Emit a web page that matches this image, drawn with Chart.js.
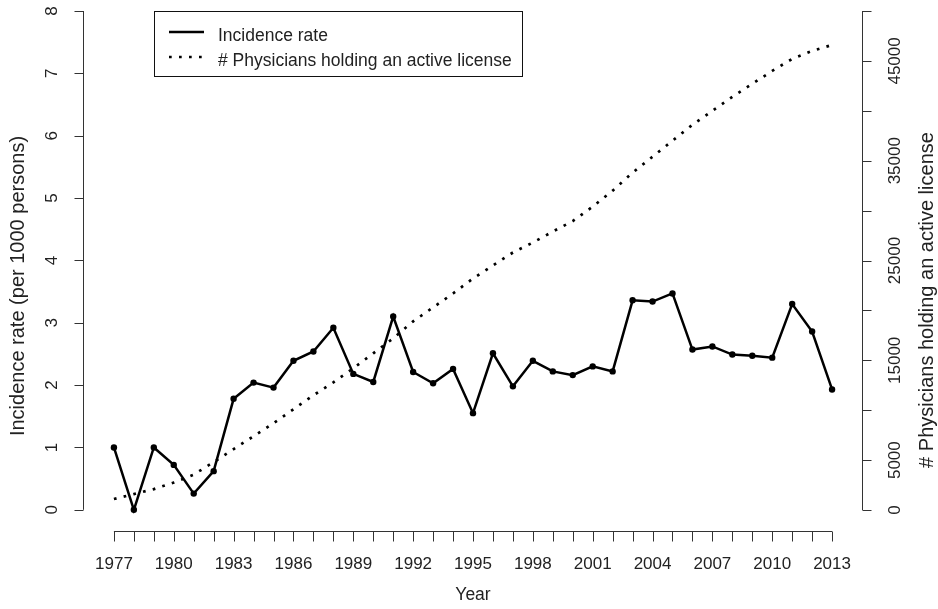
<!DOCTYPE html>
<html>
<head>
<meta charset="utf-8">
<script src="https://cdn.jsdelivr.net/npm/chart.js@4.4.1/dist/chart.umd.min.js"></script>
<style>
html, body { margin: 0; padding: 0; background: #fff; }
#wrap { width: 938px; height: 609px; position: relative; }
</style>
</head>
<body>
<div id="wrap"><canvas id="incidence-chart"></canvas></div>
<script>
const years = [1977, 1978, 1979, 1980, 1981, 1982, 1983, 1984, 1985, 1986, 1987, 1988, 1989,
    1990, 1991, 1992, 1993, 1994, 1995, 1996, 1997, 1998, 1999, 2000, 2001, 2002, 2003,
    2004, 2005, 2006, 2007, 2008, 2009, 2010, 2011, 2012, 2013];

const incidence_rate = [1.00, 0.00, 1.00, 0.72, 0.26, 0.62, 1.78, 2.04, 1.96, 2.39, 2.54, 2.92, 2.18,
    2.05, 3.10, 2.21, 2.03, 2.26, 1.55, 2.51, 1.98, 2.39, 2.22, 2.16, 2.30, 2.22, 3.36,
    3.34, 3.47, 2.57, 2.62, 2.49, 2.47, 2.44, 3.30, 2.86, 1.93];

const physicians = [1100, 1600, 2100, 2750, 3550, 4800, 6100, 7400, 8700, 10100, 11500, 12800, 14200,
    15700, 17200, 18900, 20300, 21700, 23200, 24500, 25800, 26800, 27900, 28950, 30400, 32000, 33800,
    35400, 37000, 38600, 40000, 41400, 42700, 44000, 45200, 46000, 46600];

const year_labels = [1977, 1980, 1983, 1986, 1989, 1992, 1995, 1998, 2001, 2004, 2007, 2010, 2013];
const rate_ticks = [0, 1, 2, 3, 4, 5, 6, 7, 8];
const phys_ticks = [0, 5000, 10000, 15000, 20000, 25000, 30000, 35000, 40000, 45000, 50000];
const phys_labels = [0, 5000, 15000, 25000, 35000, 45000];

const text_colour = "#222";
const axis_colour = "#333";
const font_family = "'Liberation Sans', Arial, sans-serif";

// R style axes: detached lines with outward tick marks, plus titles and a boxed legend
const rAxesPlugin = {
    id: "rAxes",
    afterDraw(chart) {
        const { ctx, chartArea, scales } = chart;
        const x = scales.x, yl = scales.y, yr = scales.y2;
        ctx.save();
        ctx.strokeStyle = axis_colour;
        ctx.lineWidth = 1;
        ctx.beginPath();

        const xb = Math.round(chartArea.bottom) + 0.5;
        ctx.moveTo(x.getPixelForValue(years[0]), xb);
        ctx.lineTo(x.getPixelForValue(years[years.length - 1]), xb);
        years.forEach(v => {
            const px = Math.round(x.getPixelForValue(v)) + 0.5;
            ctx.moveTo(px, xb);
            ctx.lineTo(px, xb + 10);
        });

        const xl = Math.round(chartArea.left) + 0.5;
        ctx.moveTo(xl, yl.getPixelForValue(rate_ticks[0]));
        ctx.lineTo(xl, yl.getPixelForValue(rate_ticks[rate_ticks.length - 1]));
        rate_ticks.forEach(v => {
            const py = Math.round(yl.getPixelForValue(v)) + 0.5;
            ctx.moveTo(xl, py);
            ctx.lineTo(xl - 9, py);
        });

        const xr = Math.round(chartArea.right) - 0.5;
        ctx.moveTo(xr, yr.getPixelForValue(phys_ticks[0]));
        ctx.lineTo(xr, yr.getPixelForValue(phys_ticks[phys_ticks.length - 1]));
        phys_ticks.forEach(v => {
            const py = Math.round(yr.getPixelForValue(v)) + 0.5;
            ctx.moveTo(xr, py);
            ctx.lineTo(xr + 9, py);
        });
        ctx.stroke();

        // axis titles, both reading bottom to top
        ctx.fillStyle = text_colour;
        ctx.font = "20px " + font_family;
        ctx.textAlign = "center";
        ctx.textBaseline = "middle";
        [[18, 286, "Incidence rate (per 1000 persons)"],
         [927, 300, "# Physicians holding an active license"]].forEach(([tx, ty, label]) => {
            ctx.save();
            ctx.translate(tx, ty);
            ctx.rotate(-Math.PI / 2);
            ctx.fillText(label, 0, 0);
            ctx.restore();
        });

        // legend
        ctx.font = "17.5px " + font_family;
        ctx.strokeStyle = "#111";
        ctx.lineWidth = 1;
        ctx.strokeRect(154.5, 11.5, 368, 65);
        ctx.textAlign = "left";
        ctx.textBaseline = "alphabetic";
        chart.data.datasets.forEach((ds, i) => {
            const ly = 32 + i * 25;
            ctx.save();
            ctx.strokeStyle = ds.borderColor;
            ctx.lineWidth = ds.borderWidth;
            ctx.setLineDash(ds.borderDash || []);
            ctx.beginPath();
            ctx.moveTo(169, ly);
            ctx.lineTo(204, ly);
            ctx.stroke();
            ctx.restore();
            ctx.fillText(ds.label, 218, 41 + i * 25);
        });
        ctx.restore();
    }
};

const fixSize = (w, h) => scale => {
    if (w !== null) scale.width = w;
    if (h !== null) scale.height = h;
    scale.paddingTop = 0;
    scale.paddingBottom = 0;
    scale.paddingLeft = 0;
    scale.paddingRight = 0;
};

window.addEventListener("DOMContentLoaded", () => {
    const ctx = document.getElementById("incidence-chart").getContext("2d");

    new Chart(ctx, {
        type: "line",
        data: {
            datasets: [{
                label: "Incidence rate",
                data: years.map((yr, i) => ({ x: yr, y: incidence_rate[i] })),
                yAxisID: "y",
                borderColor: "#000",
                borderWidth: 2.5,
                pointRadius: 3.2,
                pointBackgroundColor: "#000",
                pointBorderWidth: 0,
                tension: 0
            }, {
                label: "# Physicians holding an active license",
                data: years.map((yr, i) => ({ x: yr, y: physicians[i] })),
                yAxisID: "y2",
                borderColor: "#000",
                borderWidth: 2.7,
                borderDash: [2.7, 7.3],
                pointRadius: 0,
                tension: 0
            }]
        },
        options: {
            responsive: true,
            maintainAspectRatio: false,
            animation: false,
            devicePixelRatio: 1,
            layout: { padding: { top: 11, left: 0, right: 0, bottom: 0 } },
            plugins: {
                legend: { display: false },
                tooltip: { enabled: false }
            },
            scales: {
                x: {
                    type: "linear",
                    min: 1975.45,
                    max: 2014.55,
                    grid: { display: false, drawTicks: false },
                    border: { display: false },
                    afterBuildTicks: scale => { scale.ticks = year_labels.map(v => ({ value: v })); },
                    afterFit: fixSize(null, 78),
                    ticks: {
                        padding: 23,
                        maxRotation: 0,
                        autoSkip: false,
                        color: text_colour,
                        font: { family: font_family, size: 17 },
                        callback: v => String(v)
                    },
                    title: {
                        display: true,
                        text: "Year",
                        color: text_colour,
                        font: { family: font_family, size: 17.5 },
                        padding: { top: 0, bottom: 3 }
                    }
                },
                y: {
                    position: "left",
                    min: -0.34,
                    max: 8,
                    grid: { display: false, drawTicks: false },
                    border: { display: false },
                    afterBuildTicks: scale => { scale.ticks = rate_ticks.map(v => ({ value: v })); },
                    afterFit: fixSize(83, null),
                    ticks: {
                        minRotation: 90,
                        maxRotation: 90,
                        crossAlign: "center",
                        padding: 26,
                        autoSkip: false,
                        color: text_colour,
                        font: { family: font_family, size: 17 },
                        callback: v => String(v)
                    }
                },
                y2: {
                    position: "right",
                    min: -2100,
                    max: 50000,
                    grid: { display: false, drawTicks: false },
                    border: { display: false },
                    afterBuildTicks: scale => { scale.ticks = phys_labels.map(v => ({ value: v })); },
                    afterFit: fixSize(75, null),
                    ticks: {
                        minRotation: 90,
                        maxRotation: 90,
                        crossAlign: "center",
                        padding: 9,
                        autoSkip: false,
                        color: text_colour,
                        font: { family: font_family, size: 17 },
                        callback: v => String(v)
                    }
                }
            }
        },
        plugins: [rAxesPlugin]
    });
});
</script>
</body>
</html>
